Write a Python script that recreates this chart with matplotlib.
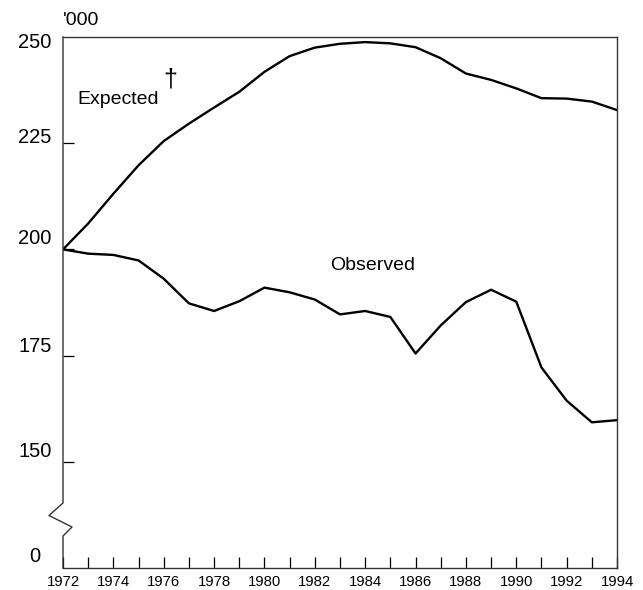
import matplotlib
matplotlib.use("Agg")
import matplotlib.pyplot as plt
import matplotlib.transforms as mtransforms

plt.rcParams["font.family"] = ["Liberation Sans", "DejaVu Sans"]

# data ('000)
years = list(range(1972, 1995))
expected = [200.0, 206.1, 213.1, 219.8, 225.5, 229.6, 233.4, 237.1, 241.8, 245.5,
            247.5, 248.4, 248.8, 248.5, 247.6, 245.0, 241.4, 239.9, 237.9, 235.6,
            235.5, 234.8, 232.8]
observed = [200.0, 199.0, 198.7, 197.4, 193.1, 187.3, 185.5, 187.8, 191.0, 189.9,
            188.2, 184.7, 185.5, 184.1, 175.5, 182.1, 187.6, 190.5, 187.7, 172.2,
            164.4, 159.3, 159.8]

# broken axis: the bottom of the plot (125) carries the label "0"
ytick_values = [125, 150, 175, 200, 225, 250]
ytick_labels = ["0", "150", "175", "200", "225", "250"]
xtick_labels = [str(y) if y % 2 == 0 else "" for y in years]

W, H = 643, 590
fig = plt.figure(figsize=(W / 100, H / 100), dpi=100)
ax = fig.add_axes([63 / W, 22 / H, 554 / W, 531 / H])

ax.plot(years, expected, color="black", lw=1.7)
ax.plot(years, observed, color="black", lw=1.7)

ax.set_xlim(1972, 1994)
ax.set_ylim(125, 250)

ax.set_xticks(years, labels=xtick_labels)
ax.set_yticks(ytick_values[1:-1])
ax.tick_params(axis="x", direction="in", length=8, width=0.9, labelsize=10.7, pad=5)
ax.tick_params(axis="y", direction="in", length=8, width=0.9, labelleft=False)

for side in ["top", "right", "bottom"]:
    ax.spines[side].set_linewidth(1.0)
    ax.spines[side].set_color("#333333")
ax.spines["left"].set_visible(False)

# left spine with the zigzag break
def ay(py):
    return (568 - py) / 531

def axx(px):
    return (px - 63) / 554

ax.plot([0, 0, axx(49), axx(72), 0, 0],
        [1, ay(503), ay(515.5), ay(527), ay(536), 0],
        transform=ax.transAxes, clip_on=False, color="#333333", lw=1.0)

# y labels sit a little above their ticks
nudges = [11, 10, 9, 11, 6, -5]
for val, lab, dy in zip(ytick_values, ytick_labels, nudges):
    tr = mtransforms.blended_transform_factory(ax.transAxes, ax.transData)
    tr = tr + mtransforms.ScaledTranslation(0, dy / 100, fig.dpi_scale_trans)
    ax.text(axx(35), val, lab, transform=tr, ha="center", va="center", fontsize=14.5)

ax.text(0.0, ay(20), "'000", transform=ax.transAxes, ha="left", va="center", fontsize=14)
ax.text(1972.58, 235.4, "Expected", ha="left", va="center", fontsize=14)
ax.text(1976.25, 240.1, "\u2020", ha="center", va="center", fontsize=18)
ax.text(1982.6, 196.2, "Observed", ha="left", va="center", fontsize=14)

fig.savefig("out.png", dpi=100)
